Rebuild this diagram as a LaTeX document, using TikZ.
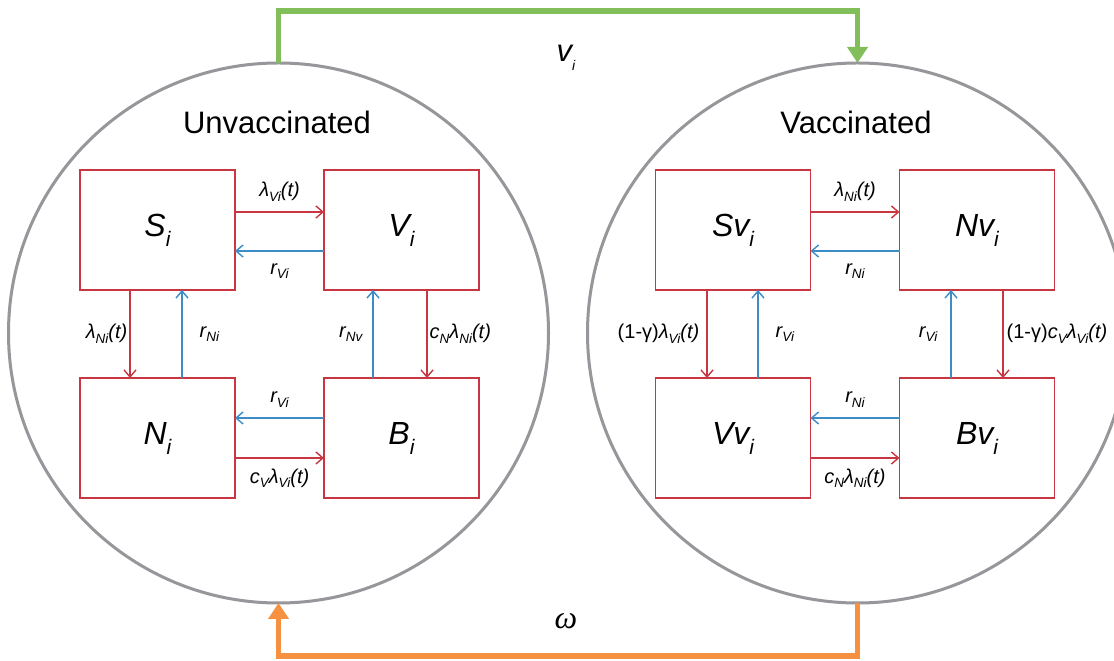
\documentclass[tikz,border=0pt]{standalone}
\usepackage{fontspec}
\setmainfont{Liberation Sans}
\newfontfamily\omegafont{Liberation Serif}
\usetikzlibrary{arrows.meta}
\definecolor{boxred}{RGB}{200,55,65}
\definecolor{arrblue}{RGB}{60,140,200}
\definecolor{flowgreen}{RGB}{130,190,90}
\definecolor{floworange}{RGB}{245,145,65}
\definecolor{circgray}{RGB}{150,150,155}
\newcommand{\sbs}[1]{\raisebox{-4.5pt}{\fontsize{13.5}{13.5}\selectfont\itshape #1}}
\newcommand{\boxlab}[2]{{\fontsize{32}{32}\selectfont\itshape #1}\raisebox{-10pt}{\fontsize{21}{21}\selectfont\itshape #2}}
\tikzset{
  circ/.style={circle, draw=circgray, line width=3pt, minimum size=540pt, inner sep=0pt, outer sep=0pt},
  cbox/.style={rectangle, draw=boxred, line width=1.5pt, minimum width=155pt, minimum height=120pt, inner sep=0pt, outer sep=0pt},
  redarr/.style={draw=boxred, line width=1.4pt, -{Straight Barb[length=7pt,width=12pt]}},
  bluearr/.style={draw=arrblue, line width=1.4pt, -{Straight Barb[length=7pt,width=12pt]}},
  greenflow/.style={draw=flowgreen, line width=5.5pt, -{Triangle[length=16pt,width=20pt]}},
  orangeflow/.style={draw=floworange, line width=5.5pt, -{Triangle[length=16pt,width=20pt]}},
  lab/.style={font=\fontsize{20}{20}\selectfont\itshape, inner sep=0pt},
  title/.style={font=\fontsize{31}{31}\selectfont},
}
\begin{document}
\begin{tikzpicture}[x=1pt,y=1pt]
\useasboundingbox (0,0) rectangle (1114,661);
\clip (0,0) rectangle (1114,661);
\fill[white] (0,0) rectangle (1114,661);
% circles
\node[circ] (L) at (278.5,328) {};
\node[circ] (R) at (857.5,328) {};
% flows between circles
\draw[greenflow] (L.north) -- ++(0,52) -| (R.north);
\draw[orangeflow] (R.south) -- ++(0,-53) -| (L.south);
\node[font=\fontsize{31}{31}\selectfont\itshape, inner sep=0pt] (vi) at (566,603) {v\raisebox{-9pt}{\fontsize{14}{14}\selectfont\itshape i}};
\node[font=\fontsize{32}{32}\omegafont\itshape, inner sep=0pt] (om) at (566,40) {ω};
% titles
\node[title] (tu) at (277,539) {Unvaccinated};
\node[title] (tv) at (856,539) {Vaccinated};
% unvaccinated boxes
\node[cbox] (S) at (157.5,431) {\boxlab{S}{i}};
\node[cbox] (V) at (401.5,431) {\boxlab{V}{i}};
\node[cbox] (N) at (157.5,223) {\boxlab{N}{i}};
\node[cbox] (B) at (401.5,223) {\boxlab{B}{i}};
% vaccinated boxes
\node[cbox] (Sv) at (733,431) {\boxlab{Sv}{i}};
\node[cbox] (Nv) at (977,431) {\boxlab{Nv}{i}};
\node[cbox] (Vv) at (733,223) {\boxlab{Vv}{i}};
\node[cbox] (Bv) at (977,223) {\boxlab{Bv}{i}};
% left horizontal arrows
\draw[redarr] ([yshift=18pt]S.east) -- ([yshift=18pt]V.west) node[lab, midway, above=10pt] {λ\sbs{Vi}(t)};
\draw[bluearr] ([yshift=-21pt]V.west) -- ([yshift=-21pt]S.east) node[lab, midway, below=12pt] {r\sbs{Vi}};
\draw[bluearr] ([yshift=20pt]B.west) -- ([yshift=20pt]N.east) node[lab, midway, above=10pt] {r\sbs{Vi}};
\draw[redarr] ([yshift=-20pt]N.east) -- ([yshift=-20pt]B.west) node[lab, midway, below=10pt] {c\sbs{V}λ\sbs{Vi}(t)};
% left vertical arrows
\draw[redarr] ([xshift=-27.5pt]S.south) -- ([xshift=-27.5pt]N.north) node[lab, midway, left=2pt] {λ\sbs{Ni}(t)};
\draw[bluearr] ([xshift=24.5pt]N.north) -- ([xshift=24.5pt]S.south) node[lab, midway, right=17pt] {r\sbs{Ni}};
\draw[bluearr] ([xshift=-28.5pt]B.north) -- ([xshift=-28.5pt]V.south) node[lab, midway, left=10pt] {r\sbs{Nv}};
\draw[redarr] ([xshift=25.5pt]V.south) -- ([xshift=25.5pt]B.north) node[lab, midway, right=2pt] {c\sbs{N}λ\sbs{Ni}(t)};
% right horizontal arrows
\draw[redarr] ([yshift=18pt]Sv.east) -- ([yshift=18pt]Nv.west) node[lab, midway, above=10pt] {λ\sbs{Ni}(t)};
\draw[bluearr] ([yshift=-21pt]Nv.west) -- ([yshift=-21pt]Sv.east) node[lab, midway, below=12pt] {r\sbs{Ni}};
\draw[bluearr] ([yshift=20pt]Bv.west) -- ([yshift=20pt]Vv.east) node[lab, midway, above=10pt] {r\sbs{Ni}};
\draw[redarr] ([yshift=-20pt]Vv.east) -- ([yshift=-20pt]Bv.west) node[lab, midway, below=10pt] {c\sbs{N}λ\sbs{Ni}(t)};
% right vertical arrows
\draw[redarr] ([xshift=-26pt]Sv.south) -- ([xshift=-26pt]Vv.north) node[lab, midway, left=7pt] {{\upshape (1-γ)}λ\sbs{Vi}(t)};
\draw[bluearr] ([xshift=25pt]Vv.north) -- ([xshift=25pt]Sv.south) node[lab, midway, right=17pt] {r\sbs{Vi}};
\draw[bluearr] ([xshift=-26pt]Bv.north) -- ([xshift=-26pt]Nv.south) node[lab, midway, left=13pt] {r\sbs{Vi}};
\draw[redarr] ([xshift=26pt]Nv.south) -- ([xshift=26pt]Bv.north) node[lab, midway, right=3pt] {{\upshape (1-γ)}c\sbs{V}λ\sbs{Vi}(t)};
\end{tikzpicture}
\end{document}
